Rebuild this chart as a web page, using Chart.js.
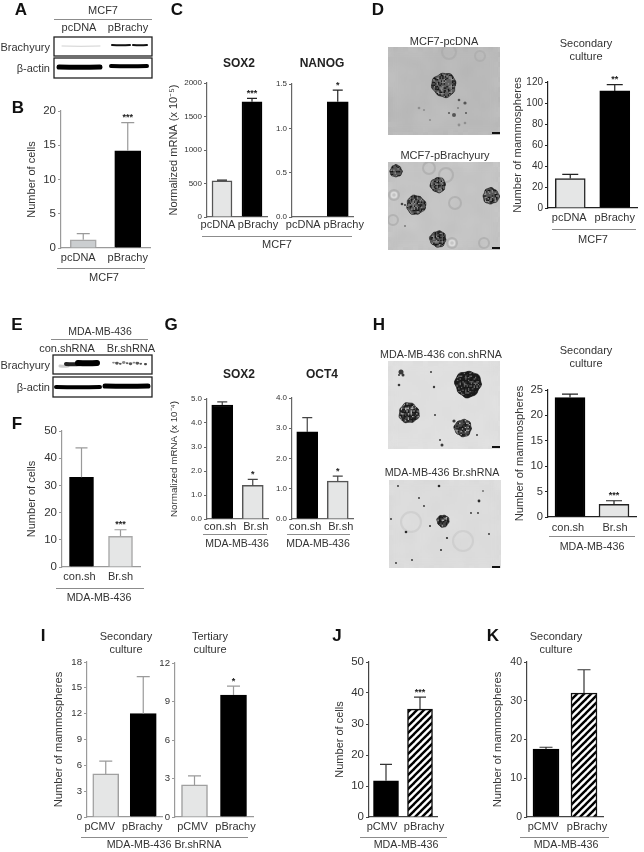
<!DOCTYPE html>
<html>
<head>
<meta charset="utf-8">
<script src="https://cdn.jsdelivr.net/npm/chart.js@4"></script>
<style>
  html, body { margin: 0; padding: 0; background: #fff; }
  #page { position: relative; width: 644px; height: 852px; overflow: hidden; font-family: "Liberation Sans", Arial, sans-serif; color: #333; }
  #page canvas { position: absolute; }
  .t { position: absolute; white-space: nowrap; transform: translate(-50%, -50%); line-height: 1; }
  .r { transform: translate(-100%, -50%); }
  .rule { position: absolute; height: 1px; background: #8c8c8c; }
</style>
</head>
<body>
<div id="page"><canvas id="photos" width="644" height="852" style="left:0;top:0"></canvas></div>
<script>
// categories
const mcf7Labels = ['pcDNA', 'pBrachy'];
const shLabels = ['con.sh', 'Br.sh'];
const cmvLabels = ['pCMV', 'pBrachy'];

// series values, and the top of each error bar
const cellsMcf7 = [1.2, 14.2];
const cellsMcf7Err = [2.1, 18.3];
const sox2Mcf7 = [540, 1720];
const sox2Mcf7Err = [550, 1770];
const nanogMcf7 = [0, 1.3];
const nanogMcf7Err = [0, 1.43];
const spheresMcf7 = [28, 111.5];
const spheresMcf7Err = [32, 117.5];
const cellsMda = [33, 11.3];
const cellsMdaErr = [43.8, 13.7];
const sox2Mda = [4.75, 1.4];
const sox2MdaErr = [4.88, 1.65];
const oct4Mda = [2.88, 1.25];
const oct4MdaErr = [3.35, 1.42];
const spheresMda = [23.5, 2.5];
const spheresMdaErr = [24.2, 3.2];
const secondaryBr = [5, 12];
const secondaryBrErr = [6.5, 16.3];
const tertiaryBr = [2.5, 9.5];
const tertiaryBrErr = [3.2, 10.2];
const cellsCmv = [11.7, 34.8];
const cellsCmvErr = [17, 38.7];
const spheresCmv = [17.5, 32];
const spheresCmvErr = [18, 38];

// tick labels
const ticksCellsMcf7 = ['0', '5', '10', '15', '20'];
const ticksSox2Mcf7 = ['0', '500', '1000', '1500', '2000'];
const ticksNanog = ['0.0', '0.5', '1.0', '1.5'];
const ticksSpheresMcf7 = ['0', '20', '40', '60', '80', '100', '120'];
const ticksCellsMda = ['0', '10', '20', '30', '40', '50'];
const ticksSox2Mda = ['0.0', '1.0', '2.0', '3.0', '4.0', '5.0'];
const ticksOct4 = ['0.0', '1.0', '2.0', '3.0', '4.0'];
const ticksSpheresMda = ['0', '5', '10', '15', '20', '25'];
const ticksSecondary = ['0', '3', '6', '9', '12', '15', '18'];
const ticksTertiary = ['0', '3', '6', '9', '12'];
const ticksCellsCmv = ['0', '10', '20', '30', '40', '50'];
const ticksSpheresCmv = ['0', '10', '20', '30', '40'];

const FONT = '"Liberation Sans", Arial, sans-serif';
const page = document.getElementById('page');
const GUTTER = 60;

function hatch() {
  const c = document.createElement('canvas');
  c.width = c.height = 7;
  const g = c.getContext('2d');
  g.fillStyle = '#fff';
  g.fillRect(0, 0, 7, 7);
  g.strokeStyle = '#000';
  g.lineWidth = 2.4;
  [[-7, 7, 7, -7], [0, 7, 7, 0], [0, 14, 14, 0]].forEach(l => {
    g.beginPath();
    g.moveTo(l[0], l[1]);
    g.lineTo(l[2], l[3]);
    g.stroke();
  });
  return g.createPattern(c, 'repeat');
}

// draws error bars, stars and the x labels from the chart's own scales
const marks = {
  id: 'marks',
  afterDatasetsDraw(chart, args, o) {
    const ctx = chart.ctx, x = chart.scales.x, y = chart.scales.y;
    ctx.save();
    chart.data.labels.forEach((name, i) => {
      const px = x.getPixelForValue(i);
      const top = y.getPixelForValue(o.errors[i]);
      const base = y.getPixelForValue(chart.data.datasets[0].data[i]);
      if (o.errors[i] > chart.data.datasets[0].data[i]) {
        ctx.strokeStyle = o.errColor;
        ctx.lineWidth = 1.2;
        ctx.beginPath();
        ctx.moveTo(px, base);
        ctx.lineTo(px, top);
        ctx.moveTo(px - o.cap, top);
        ctx.lineTo(px + o.cap, top);
        ctx.stroke();
      }
      ctx.textAlign = 'center';
      ctx.textBaseline = 'middle';
      if (o.stars[i]) {
        ctx.fillStyle = '#222';
        ctx.font = 'bold 9px ' + FONT;
        ctx.fillText(o.stars[i], px, top - 5);
      }
      ctx.fillStyle = '#333';
      ctx.font = '11px ' + FONT;
      ctx.fillText(name, px + o.dx[i], y.bottom + o.labelGap);
    });
    ctx.restore();
  }
};

function barPanel(p) {
  const c = document.createElement('canvas');
  const topPad = 12, bottomPad = 20, rightPad = 26;
  const w = GUTTER + p.plotW + rightPad;
  const h = topPad + (p.bottom - p.top) + bottomPad;
  c.width = w;
  c.height = h;
  c.style.left = (p.axisX - GUTTER) + 'px';
  c.style.top = (p.top - topPad) + 'px';
  page.appendChild(c);
  const tickLabels = p.ticks;
  const title = p.title ? {
    display: true,
    text: p.title,
    color: '#333',
    font: { family: FONT, size: p.titleSize },
    padding: { top: p.titleX - (p.axisX - GUTTER) - p.titleSize * 0.6, bottom: 0 }
  } : { display: false };
  new Chart(c, {
    type: 'bar',
    plugins: [marks],
    data: {
      labels: p.labels,
      datasets: [{
        data: p.values,
        backgroundColor: p.fills,
        borderColor: p.borders,
        borderWidth: 1.5,
        barThickness: p.barW
      }]
    },
    options: {
      responsive: false,
      animation: false,
      layout: { padding: { top: topPad, bottom: bottomPad, right: rightPad, left: 0 } },
      plugins: {
        legend: { display: false },
        tooltip: { enabled: false },
        marks: {
          errors: p.errors,
          stars: p.stars,
          cap: p.cap,
          dx: p.dx,
          labelGap: p.labelGap,
          errColor: p.errColor
        }
      },
      scales: {
        x: {
          grid: { display: false },
          border: { color: p.axisColor, width: 1.2 },
          ticks: { display: false },
          afterFit: s => { s.height = 0; }
        },
        y: {
          min: +tickLabels[0],
          max: +tickLabels[tickLabels.length - 1],
          afterBuildTicks: s => { s.ticks = tickLabels.map(l => ({ value: +l })); },
          afterFit: s => { s.width = GUTTER; },
          grid: { drawOnChartArea: false, drawTicks: true, tickLength: 3, color: p.axisColor },
          border: { color: p.axisColor, width: 1.2 },
          ticks: {
            autoSkip: false,
            padding: 2,
            color: '#333',
            font: { family: FONT, size: p.tickSize },
            callback: (v, i) => tickLabels[i]
          },
          title: title
        }
      }
    }
  });
}

const LIGHT = '#e5e6e6';
const GREY = '#9a9a9a';
const DARK = '#222';

barPanel({ labels: mcf7Labels, values: cellsMcf7, errors: cellsMcf7Err, ticks: ticksCellsMcf7, stars: ['', '***'],
  axisX: 61, top: 111, bottom: 248, plotW: 89, barW: 26, cap: 6.5, dx: [-5, 0], labelGap: 10, tickSize: 11.5,
  title: 'Number of cells', titleX: 32, titleSize: 11, axisColor: GREY, errColor: GREY,
  fills: ['#cbced0', '#000'], borders: ['#a8a8a8', '#000'] });
barPanel({ labels: mcf7Labels, values: sox2Mcf7, errors: sox2Mcf7Err, ticks: ticksSox2Mcf7, stars: ['', '***'],
  axisX: 207, top: 83, bottom: 217, plotW: 60, barW: 20, cap: 5, dx: [-4, 6], labelGap: 8, tickSize: 8,
  title: 'Normalized mRNA (x 10⁻⁵)', titleX: 174, titleSize: 11, axisColor: '#666', errColor: DARK,
  fills: [LIGHT, '#000'], borders: ['#555', '#000'] });
barPanel({ labels: mcf7Labels, values: nanogMcf7, errors: nanogMcf7Err, ticks: ticksNanog, stars: ['', '*'],
  axisX: 292, top: 84, bottom: 217, plotW: 61, barW: 21, cap: 5, dx: [-4, 6], labelGap: 8, tickSize: 8,
  axisColor: '#666', errColor: DARK, fills: [LIGHT, '#000'], borders: ['#555', '#000'] });
barPanel({ labels: mcf7Labels, values: spheresMcf7, errors: spheresMcf7Err, ticks: ticksSpheresMcf7, stars: ['', '**'],
  axisX: 548, top: 82, bottom: 208, plotW: 89, barW: 30, cap: 8, dx: [-1, 0], labelGap: 10, tickSize: 10,
  title: 'Number of mammospheres', titleX: 518, titleSize: 11.2, axisColor: DARK, errColor: DARK,
  fills: [LIGHT, '#000'], borders: [DARK, '#000'] });
barPanel({ labels: shLabels, values: cellsMda, errors: cellsMdaErr, ticks: ticksCellsMda, stars: ['', '***'],
  axisX: 62, top: 431, bottom: 567, plotW: 78, barW: 24, cap: 6, dx: [-2, 0], labelGap: 10, tickSize: 11.5,
  title: 'Number of cells', titleX: 32, titleSize: 11, axisColor: GREY, errColor: GREY,
  fills: ['#000', LIGHT], borders: ['#000', '#a8a8a8'] });
barPanel({ labels: shLabels, values: sox2Mda, errors: sox2MdaErr, ticks: ticksSox2Mda, stars: ['', '*'],
  axisX: 207, top: 399, bottom: 519, plotW: 61, barW: 21, cap: 5, dx: [-2, 3], labelGap: 7.5, tickSize: 8,
  title: 'Normalized mRNA (x 10⁻⁴)', titleX: 174, titleSize: 9.8, axisColor: '#666', errColor: '#444',
  fills: ['#000', LIGHT], borders: ['#000', '#555'] });
barPanel({ labels: shLabels, values: oct4Mda, errors: oct4MdaErr, ticks: ticksOct4, stars: ['', '*'],
  axisX: 292, top: 398, bottom: 519, plotW: 61, barW: 21, cap: 5, dx: [-2, 3], labelGap: 7.5, tickSize: 8,
  axisColor: '#666', errColor: '#444', fills: ['#000', LIGHT], borders: ['#000', '#555'] });
barPanel({ labels: shLabels, values: spheresMda, errors: spheresMdaErr, ticks: ticksSpheresMda, stars: ['', '***'],
  axisX: 548, top: 390, bottom: 517, plotW: 88, barW: 30, cap: 8, dx: [-2, 1], labelGap: 11, tickSize: 11.2,
  title: 'Number of mammospheres', titleX: 520, titleSize: 11.2, axisColor: DARK, errColor: DARK,
  fills: ['#000', LIGHT], borders: ['#000', DARK] });
barPanel({ labels: cmvLabels, values: secondaryBr, errors: secondaryBrErr, ticks: ticksSecondary, stars: ['', ''],
  axisX: 87, top: 662, bottom: 817, plotW: 75, barW: 26, cap: 6.5, dx: [-6, -1], labelGap: 10, tickSize: 9.6,
  title: 'Number of mammospheres', titleX: 59, titleSize: 11.2, axisColor: GREY, errColor: GREY,
  fills: [LIGHT, '#000'], borders: ['#a0a0a0', '#000'] });
barPanel({ labels: cmvLabels, values: tertiaryBr, errors: tertiaryBrErr, ticks: ticksTertiary, stars: ['', '*'],
  axisX: 175, top: 663, bottom: 817, plotW: 78, barW: 26, cap: 6.5, dx: [-2, 2], labelGap: 10, tickSize: 9.6,
  axisColor: GREY, errColor: GREY, fills: [LIGHT, '#000'], borders: ['#a0a0a0', '#000'] });
barPanel({ labels: cmvLabels, values: cellsCmv, errors: cellsCmvErr, ticks: ticksCellsCmv, stars: ['', '***'],
  axisX: 369, top: 662, bottom: 817, plotW: 68, barW: 25, cap: 6, dx: [-4, 4], labelGap: 10, tickSize: 11.5,
  title: 'Number of cells', titleX: 340, titleSize: 11, axisColor: '#444', errColor: '#333',
  fills: ['#000', hatch()], borders: ['#000', '#111'] });
barPanel({ labels: cmvLabels, values: spheresCmv, errors: spheresCmvErr, ticks: ticksSpheresCmv, stars: ['', ''],
  axisX: 527, top: 662, bottom: 817, plotW: 76, barW: 26, cap: 6.5, dx: [-3, 3], labelGap: 10, tickSize: 10.5,
  title: 'Number of mammospheres', titleX: 498, titleSize: 11.2, axisColor: '#444', errColor: '#333',
  fills: ['#000', hatch()], borders: ['#000', '#111'] });

// plain text and the rules under the groups
function text(str, x, y, size, extra) {
  const d = document.createElement('div');
  d.className = 't' + (extra && extra.right ? ' r' : '');
  d.textContent = str;
  d.style.left = x + 'px';
  d.style.top = y + 'px';
  d.style.fontSize = size + 'px';
  if (extra && extra.bold) { d.style.fontWeight = 'bold'; d.style.color = extra.color || '#222'; }
  page.appendChild(d);
}
function rule(x1, x2, y) {
  const d = document.createElement('div');
  d.className = 'rule';
  d.style.left = x1 + 'px';
  d.style.width = (x2 - x1) + 'px';
  d.style.top = y + 'px';
  page.appendChild(d);
}

[['A', 21, 9], ['B', 18, 107], ['C', 177, 9], ['D', 378, 9], ['E', 17, 324], ['F', 17, 423], ['G', 171, 324],
 ['H', 379, 324], ['I', 43, 635], ['J', 337, 635], ['K', 493, 635]].forEach(l => text(l[0], l[1], l[2], 17, { bold: true, color: '#111' }));

text('MCF7', 103, 10, 11); rule(54, 152, 19);
text('pcDNA', 79, 27, 11); text('pBrachy', 128, 27, 11);
text('Brachyury', 50, 47, 11, { right: true }); text('β-actin', 50, 68, 11, { right: true });
rule(57, 145, 268); text('MCF7', 104, 277, 11);
text('SOX2', 239, 63, 12, { bold: true }); text('NANOG', 322, 63, 12, { bold: true });
rule(202, 352, 236); text('MCF7', 277, 244, 11);
text('MCF7-pcDNA', 444, 41, 11); text('MCF7-pBrachyury', 445, 155, 11);
text('Secondary', 586, 43, 11); text('culture', 586, 56, 11);
rule(552, 636, 229); text('MCF7', 593, 239, 11);

text('MDA-MB-436', 100, 331, 10.5); rule(51, 148, 339);
text('con.shRNA', 67, 348, 11); text('Br.shRNA', 131, 348, 11);
text('Brachyury', 50, 365, 11, { right: true }); text('β-actin', 50, 387, 11, { right: true });
rule(56, 144, 588); text('MDA-MB-436', 99, 597, 10.7);
text('SOX2', 239, 374, 12, { bold: true }); text('OCT4', 322, 374, 12, { bold: true });
rule(203, 267, 534); text('MDA-MB-436', 237, 543, 10.5);
rule(287, 350, 534); text('MDA-MB-436', 318, 543, 10.5);
text('MDA-MB-436 con.shRNA', 441, 354, 10.7); text('MDA-MB-436 Br.shRNA', 442, 472, 10.7);
text('Secondary', 586, 350, 11); text('culture', 586, 363, 11);
rule(549, 635, 536); text('MDA-MB-436', 592, 546, 10.7);

text('Secondary', 126, 636, 11); text('culture', 126, 649, 11);
text('Tertiary', 210, 636, 11); text('culture', 210, 649, 11);
rule(81, 248, 837); text('MDA-MB-436 Br.shRNA', 164, 844, 10.7);
rule(360, 447, 837); text('MDA-MB-436', 406, 844, 10.7);
text('Secondary', 556, 636, 11); text('culture', 556, 649, 11);
rule(520, 609, 837); text('MDA-MB-436', 566, 844, 10.7);

// blots and micrographs, these are pictures and not data
const photos = document.getElementById('photos');
const g = photos.getContext('2d');

function band(x1, x2, y, t, col) {
  g.strokeStyle = col;
  g.lineWidth = t;
  g.lineCap = 'round';
  g.beginPath();
  g.moveTo(x1, y);
  g.quadraticCurveTo((x1 + x2) / 2, y + 0.6, x2, y);
  g.stroke();
}
function box(x1, y1, x2, y2) {
  g.strokeStyle = '#222';
  g.lineWidth = 1.3;
  g.strokeRect(x1, y1, x2 - x1, y2 - y1);
}
g.filter = 'blur(0.6px)';
band(62, 100, 46, 1, '#d0d0d0');
band(112, 130, 45, 2, '#111');
band(133, 147, 45, 2, '#111');
band(59, 100, 67, 5, '#000');
band(111, 147, 66, 4, '#000');
band(60, 68, 366, 3, '#ccc');
band(66, 80, 364, 4, '#222');
band(78, 97, 363, 6, '#000');
for (let i = 0; i < 9; i++) band(113 + i * 3.4, 114 + i * 3.4, 362.5 + (i % 3) * 0.6, 1.6 + (i % 2), i % 3 ? '#555' : '#888');
band(145, 146, 364, 2, '#444');
band(56, 100, 387, 4, '#000');
band(105, 148, 386, 5, '#000');
g.filter = 'none';
box(54, 37, 152, 56); box(54, 58, 152, 78);
box(53, 355, 152, 374); box(53, 377, 152, 397);

function shade(x, y, i) {
  // fixed texture from a small hash, only for the look of the photo
  const s = Math.sin(x * 12.9898 + y * 78.233 + i) * 43758.5453;
  return s - Math.floor(s);
}
function blobPath(cx, cy, r) {
  g.beginPath();
  for (let a = 0; a <= 40; a++) {
    const t = a / 40 * Math.PI * 2;
    const rr = r * (1 + 0.05 * Math.sin(t * 3 + cx) + 0.04 * Math.sin(t * 8 + cy));
    g.lineTo(cx + Math.cos(t) * rr, cy + Math.sin(t) * rr);
  }
  g.closePath();
}
function sphere(cx, cy, r, dark, mid, hi) {
  g.save();
  g.fillStyle = mid;
  blobPath(cx, cy, r);
  g.fill();
  g.clip();
  for (let yy = -r - 1; yy < r + 1; yy += 1.4) {
    for (let xx = -r - 1; xx < r + 1; xx += 1.4) {
      const v = shade(cx + xx, cy + yy, 1);
      if (v < dark) g.fillStyle = '#161616';
      else if (v > 0.8) g.fillStyle = hi;
      else continue;
      g.fillRect(cx + xx, cy + yy, 1.4, 1.4);
    }
  }
  g.restore();
  g.strokeStyle = 'rgba(25,25,25,0.7)';
  g.lineWidth = 0.9;
  blobPath(cx, cy, r);
  g.stroke();
}
function photo(x1, y1, x2, y2, base, amp) {
  g.fillStyle = `rgb(${base},${base},${base - 1})`;
  g.fillRect(x1, y1, x2 - x1, y2 - y1);
  for (let y = y1; y < y2; y += 5) {
    for (let x = x1; x < x2; x += 5) {
      const v = Math.round((shade(x, y, 2) - 0.5) * amp) + base;
      g.fillStyle = `rgb(${v},${v},${v})`;
      g.fillRect(x, y, 5, 5);
    }
  }
  g.save();
  g.filter = 'blur(4px)';
  g.beginPath();
  g.rect(x1, y1, x2 - x1, y2 - y1);
  g.clip();
  g.drawImage(photos, x1, y1, x2 - x1, y2 - y1, x1, y1, x2 - x1, y2 - y1);
  g.restore();
}
function dots(list, col) {
  g.fillStyle = col;
  list.forEach(d => {
    g.beginPath();
    g.arc(d[0], d[1], d[2], 0, Math.PI * 2);
    g.fill();
  });
}
function rings(list, col, w) {
  g.strokeStyle = col;
  g.lineWidth = w;
  list.forEach(d => {
    g.beginPath();
    g.arc(d[0], d[1], d[2], 0, Math.PI * 2);
    g.stroke();
  });
}
function picture(x1, y1, x2, y2, fn) {
  g.save();
  g.beginPath();
  g.rect(x1, y1, x2 - x1, y2 - y1);
  g.clip();
  fn();
  // soften everything, the reference is a low quality scan
  g.filter = 'blur(0.7px)';
  g.drawImage(photos, x1, y1, x2 - x1, y2 - y1, x1, y1, x2 - x1, y2 - y1);
  g.restore();
}

picture(388, 47, 500, 135, () => {
  photo(388, 47, 500, 135, 186, 14);
  rings([[449, 52, 7], [480, 56, 5]], 'rgba(165,165,165,0.5)', 2);
  sphere(444, 85, 12, 0.3, '#5e5e5e', '#8f8f8f');
  dots([[454, 115, 2], [449, 113, 1], [459, 100, 1.3], [465, 103, 1.6], [466, 113, 1], [458, 108, 0.8]], '#555');
  dots([[419, 108, 1.3], [424, 110, 1.1], [430, 120, 1.1], [459, 125, 1.4], [465, 123, 1.3]], '#8f8f8f');
  g.fillStyle = '#111';
  g.fillRect(492, 132, 8, 2);
});
picture(388, 162, 500, 250, () => {
  photo(388, 162, 500, 250, 196, 14);
  rings([[394, 195, 5], [393, 220, 5], [429, 168, 6], [455, 203, 6], [452, 243, 5], [484, 243, 5], [446, 175, 7]], 'rgba(160,160,160,0.5)', 2);
  rings([[394, 195, 2.5], [452, 243, 2.5]], 'rgba(235,235,235,0.6)', 1.5);
  dots([[402, 204, 1.3], [405, 205, 1.1], [405, 226, 0.8]], '#444');
  sphere(396, 171, 6, 0.3, '#565656', '#8f8f8f');
  sphere(438, 185, 7.5, 0.34, '#565656', '#8f8f8f');
  sphere(416, 205, 9.5, 0.3, '#565656', '#8f8f8f');
  sphere(491, 196, 8, 0.3, '#565656', '#8f8f8f');
  sphere(438, 239, 8, 0.32, '#565656', '#8f8f8f');
  g.fillStyle = '#111';
  g.fillRect(492, 247, 8, 2);
});
picture(388, 361, 500, 449, () => {
  photo(388, 361, 500, 449, 223, 8);
  sphere(468, 384, 13, 0.65, '#2c2c2c', '#6a6a6a');
  sphere(409, 413, 10, 0.42, '#484848', '#b0b0b0');
  sphere(463, 428, 8.5, 0.42, '#484848', '#b0b0b0');
  dots([[401, 372, 2.5], [403, 375, 1.5], [399, 375, 1], [399, 385, 1.3], [431, 372, 1], [434, 387, 1.2], [435, 415, 1], [442, 445, 1.5], [440, 440, 1], [477, 435, 1], [454, 421, 1.6]], '#3a3a3a');
  g.fillStyle = '#111';
  g.fillRect(492, 446, 8, 2);
});
picture(389, 480, 501, 568, () => {
  photo(389, 480, 501, 568, 220, 8);
  rings([[411, 522, 10], [463, 541, 10]], 'rgba(195,195,195,0.5)', 2);
  sphere(443, 521, 6, 0.45, '#444', '#b0b0b0');
  dots([[439, 486, 1.3], [419, 498, 0.9], [424, 506, 0.9], [479, 501, 1.4], [471, 513, 0.9], [478, 513, 0.9], [406, 532, 1.3], [447, 538, 1.1], [441, 550, 1], [396, 563, 0.9], [412, 560, 0.9], [489, 534, 0.9], [391, 519, 0.9], [398, 486, 0.9], [483, 491, 0.8], [430, 526, 1]], '#2a2a2a');
  g.fillStyle = '#111';
  g.fillRect(492, 566, 8, 2);
});
</script>
</body>
</html>
